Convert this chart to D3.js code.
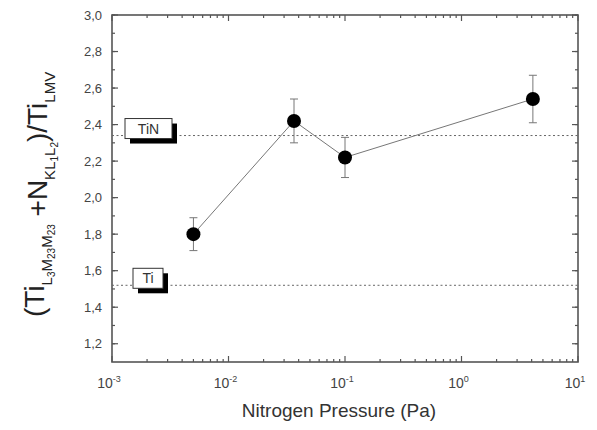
<!DOCTYPE html>
<html>
<head>
<meta charset="utf-8">
<script src="https://cdn.jsdelivr.net/npm/d3@7"></script>
<style>
  body { margin: 0; background: #fff; }
  text { font-family: "Liberation Sans", Arial, sans-serif; }
</style>
</head>
<body>
<div id="chart"></div>
<script>
// measured values
const pressure = [0.005, 0.0365, 0.1, 4.1];
const ratio = [1.80, 2.42, 2.22, 2.54];
const errLow = [0.09, 0.12, 0.11, 0.13];
const errHigh = [0.09, 0.12, 0.11, 0.13];

// reference levels
const refNames = ["TiN", "Ti"];
const refValues = [2.34, 1.52];

const yTicks = [1.2, 1.4, 1.6, 1.8, 2.0, 2.2, 2.4, 2.6, 2.8, 3.0];
const xDecades = [-3, -2, -1, 0, 1];

const margin = { top: 15, right: 19, bottom: 68, left: 112 };
const W = 597, H = 430;
const width = W - margin.left - margin.right;
const height = H - margin.top - margin.bottom;

const svg = d3.select("#chart").append("svg")
  .attr("width", W).attr("height", H);
const g = svg.append("g")
  .attr("transform", `translate(${margin.left},${margin.top})`);

const x = d3.scaleLog().domain([1e-3, 1e1]).range([0, width]);
const y = d3.scaleLinear().domain([1.1, 3.0]).range([height, 0]);

const axisCol = "#555";
const textCol = "#444";

// minor ticks
const yMinor = d3.range(12, 31).map(d => d / 10);
const xMinor = [];
for (let e = -3; e < 1; e++) for (let m = 2; m <= 9; m++) xMinor.push(m * Math.pow(10, e));

function tickLines(sel, vals, len, horiz) {
  vals.forEach(v => {
    if (horiz) {
      sel.append("line").attr("x1", 0).attr("x2", len).attr("y1", y(v)).attr("y2", y(v));
      sel.append("line").attr("x1", width).attr("x2", width - len).attr("y1", y(v)).attr("y2", y(v));
    } else {
      sel.append("line").attr("y1", height).attr("y2", height - len).attr("x1", x(v)).attr("x2", x(v));
      sel.append("line").attr("y1", 0).attr("y2", len).attr("x1", x(v)).attr("x2", x(v));
    }
  });
}
const ticks = g.append("g").attr("stroke", axisCol).attr("stroke-width", 1.2);
tickLines(ticks, yMinor, 3, true);
tickLines(ticks, yTicks, 6, true);
tickLines(ticks, xMinor, 3, false);
tickLines(ticks, xDecades.map(e => Math.pow(10, e)), 6, false);

// frame
g.append("rect").attr("width", width).attr("height", height)
  .attr("fill", "none").attr("stroke", axisCol).attr("stroke-width", 1.6);

// y tick labels
g.selectAll(".ylab").data(yTicks).join("text")
  .attr("x", -10).attr("y", d => y(d)).attr("dy", "0.35em")
  .attr("text-anchor", "end").attr("font-size", 13).attr("fill", textCol)
  .text(d => d.toFixed(1).replace(".", ","));

// x tick labels
const xl = g.selectAll(".xlab").data(xDecades).join("text")
  .attr("x", d => x(Math.pow(10, d)) - 3).attr("y", height + 26)
  .attr("text-anchor", "middle").attr("font-size", 14).attr("fill", textCol);
xl.append("tspan").text("10");
xl.append("tspan").attr("dy", -6).attr("font-size", 9).text(d => d);

// x title
g.append("text").attr("x", width / 2 - 6).attr("y", height + 55)
  .attr("text-anchor", "middle").attr("font-size", 19).attr("fill", "#333")
  .text("Nitrogen Pressure (Pa)");

// y title with subscripts
const yt = svg.append("text")
  .attr("transform", "translate(44,317) rotate(-90)")
  .attr("font-size", 28).attr("fill", "#222");
function part(t, size, dy) {
  const s = yt.append("tspan").attr("font-size", size).text(t);
  if (dy) s.attr("dy", dy);
}
part("(Ti", 28, 0);
part("L", 15, 8); part("3", 10, 3); part("M", 15, -3); part("23", 10, 3); part("M", 15, -3); part("23", 10, 3);
part(" +N", 28, -8);
part("KL", 15, 8); part("1", 10, 3); part("L", 15, -3); part("2", 10, 3);
part(")/Ti", 28, -11);
part("LMV", 15, 8);

// reference lines
g.selectAll(".ref").data(refValues).join("line")
  .attr("x1", 0).attr("x2", width)
  .attr("y1", d => y(d)).attr("y2", d => y(d))
  .attr("stroke", "#666").attr("stroke-width", 1).attr("stroke-dasharray", "2,2.5");

// reference label boxes
const boxW = [47, 30];
const boxX = [13, 21];
refNames.forEach((n, i) => {
  const by = y(refValues[i]) - 17;
  g.append("rect").attr("x", boxX[i] + 5).attr("y", by + 5).attr("width", boxW[i]).attr("height", 20).attr("fill", "#000");
  g.append("rect").attr("x", boxX[i]).attr("y", by).attr("width", boxW[i]).attr("height", 20)
    .attr("fill", "#fff").attr("stroke", "#333").attr("stroke-width", 1);
  g.append("text").attr("x", boxX[i] + boxW[i] / 2).attr("y", by + 15)
    .attr("text-anchor", "middle").attr("font-size", 14).attr("fill", "#333").text(n);
});

const pts = pressure.map((p, i) => ({ p, v: ratio[i], lo: errLow[i], hi: errHigh[i] }));

// connecting line
g.append("path").datum(pts)
  .attr("d", d3.line().x(d => x(d.p)).y(d => y(d.v)))
  .attr("fill", "none").attr("stroke", "#777").attr("stroke-width", 1);

// error bars
const eb = g.append("g").attr("stroke", "#777").attr("stroke-width", 1);
pts.forEach(d => {
  const cx = x(d.p);
  eb.append("line").attr("x1", cx).attr("x2", cx).attr("y1", y(d.v - d.lo)).attr("y2", y(d.v + d.hi));
  eb.append("line").attr("x1", cx - 4).attr("x2", cx + 4).attr("y1", y(d.v - d.lo)).attr("y2", y(d.v - d.lo));
  eb.append("line").attr("x1", cx - 4).attr("x2", cx + 4).attr("y1", y(d.v + d.hi)).attr("y2", y(d.v + d.hi));
});

// points
g.selectAll(".pt").data(pts).join("circle")
  .attr("cx", d => x(d.p)).attr("cy", d => y(d.v)).attr("r", 7).attr("fill", "#000");
</script>
</body>
</html>
